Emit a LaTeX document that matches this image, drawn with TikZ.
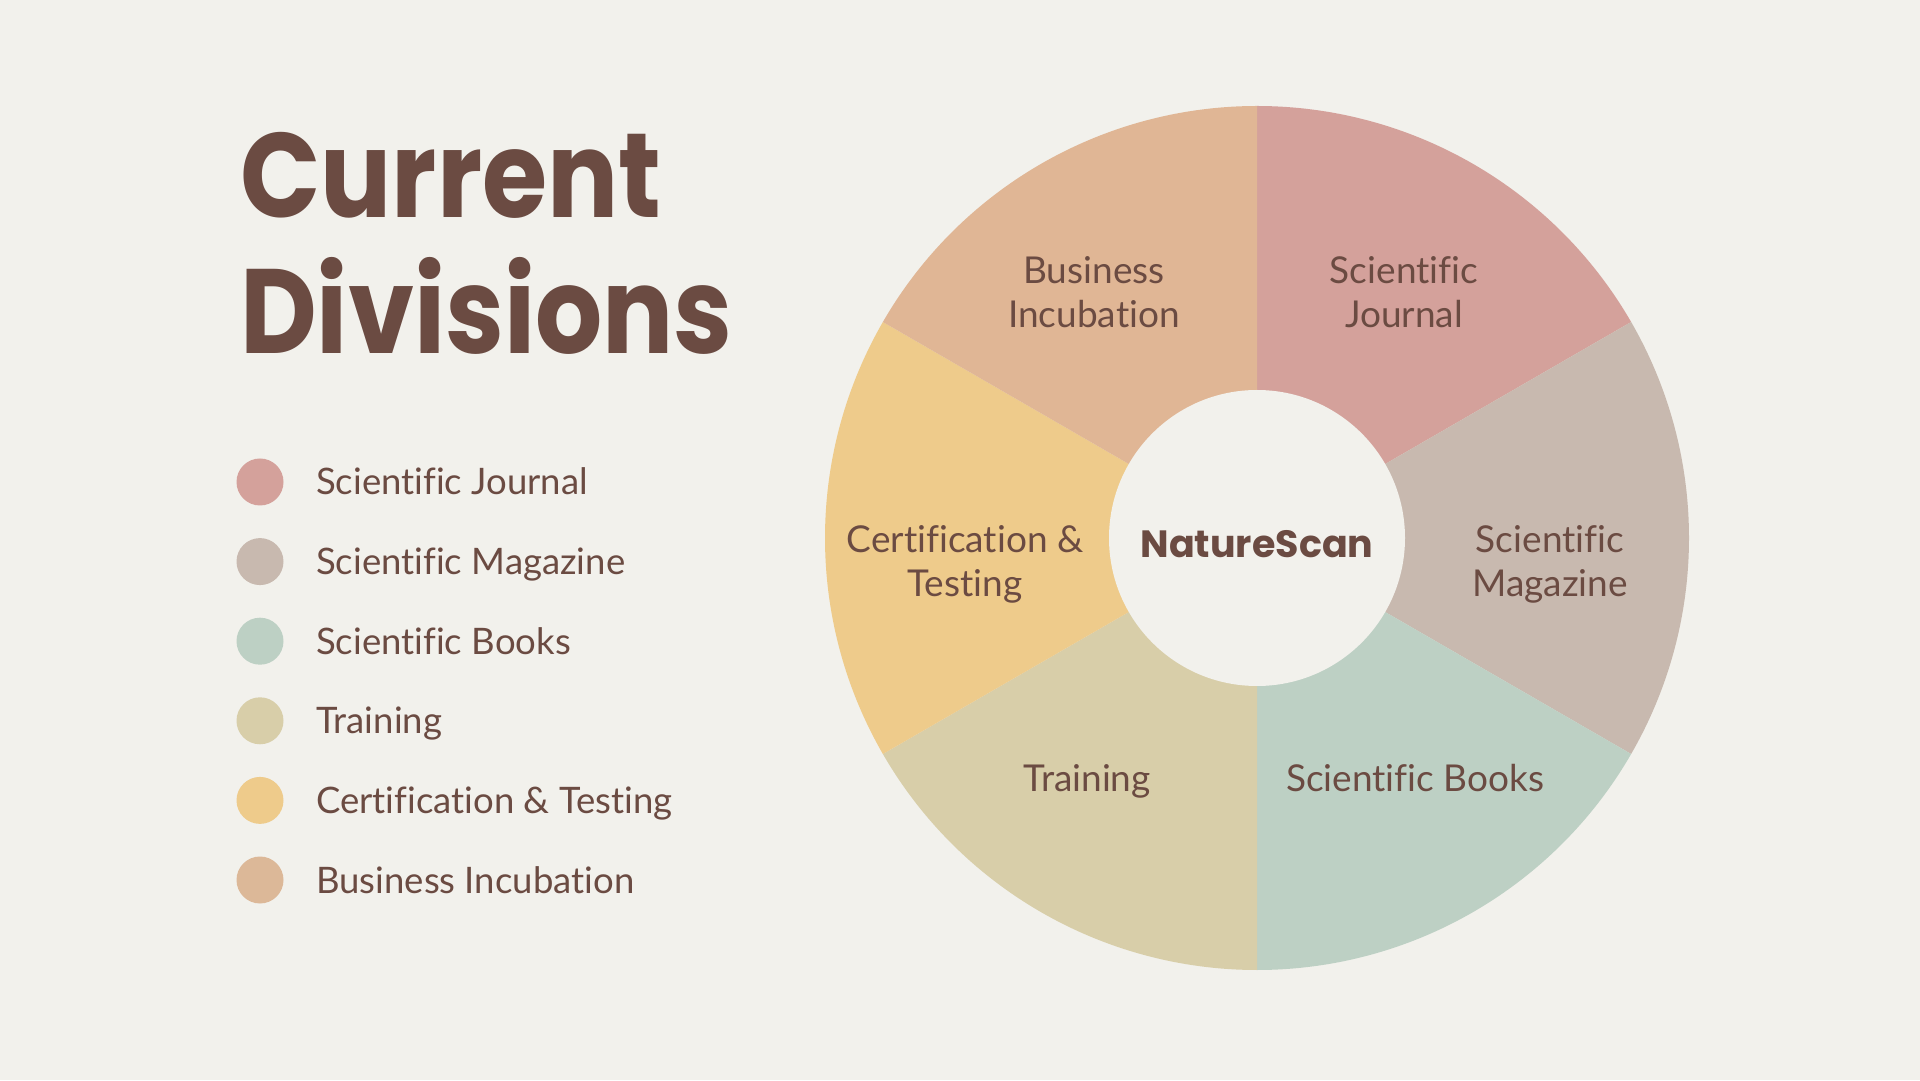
\documentclass[tikz,border=0pt]{standalone}
\usepackage{fontspec}
\setmainfont{Lato}[Ligatures={NoCommon}]
\newfontfamily\titlefont{Poppins}
\newfontfamily\headfont[FakeStretch=0.88]{Poppins}
\usetikzlibrary{calc}
\definecolor{bgc}{HTML}{F2F1EC}
\definecolor{txt}{HTML}{6B4B42}
\definecolor{cjournal}{HTML}{D4A19B}
\definecolor{cmagazine}{HTML}{C8B9AF}
\definecolor{cbooks}{HTML}{BDD0C4}
\definecolor{ctraining}{HTML}{D8CEA9}
\definecolor{ccert}{HTML}{EECB8B}
\definecolor{cbusiness}{HTML}{E0B695}
\definecolor{cbusinessdot}{HTML}{DCB898}
\tikzset{
  titletext/.style={anchor=base west, inner sep=0pt, text=txt, font=\headfont\bfseries\fontsize{120}{120}\selectfont},
  dot/.style={circle, inner sep=0pt, minimum size=47, fill=#1},
  legtext/.style={anchor=base west, inner sep=0pt, text=txt, font=\fontsize{36.5}{44}\selectfont},
  wheeltext/.style={anchor=base, inner sep=0pt, text=txt, font=\fontsize{37}{44}\selectfont},
  hubtext/.style={inner sep=0pt, text=txt, font=\titlefont\bfseries\fontsize{38}{38}\selectfont}
}
\begin{document}
\begin{tikzpicture}[x=1pt,y=1pt]
\useasboundingbox (0,0) rectangle (1920,1080);
\fill[bgc] (0,0) rectangle (1920,1080);
% title
\node[titletext] (t1) at (240,1080-218) {Current};
\node[titletext] (t2) at (240,1080-354) {Divisions};
% legend
\foreach \i/\c/\t in {0/cjournal/Scientific Journal,1/cmagazine/Scientific Magazine,2/cbooks/Scientific Books,3/ctraining/Training,4/ccert/Certification \& Testing,5/cbusinessdot/Business Incubation}{
  \node[dot=\c] (d\i) at (260,1080-482-79.6*\i) {};
  \node[legtext] (l\i) at (316,1080-495-79.6*\i) {\t};
}
% wheel
\coordinate (C) at (1257,542);
\foreach \a/\c in {90/cjournal,30/cmagazine,-30/cbooks,-90/ctraining,-150/ccert,150/cbusiness}{
  \fill[\c] (C) -- ($(C)+(\a:432)$) arc[start angle=\a, end angle=\a-60, radius=432] -- cycle;
}
\node[circle, fill=bgc, minimum size=296, inner sep=0pt] (hub) at (C) {};
\node[hubtext] (hubl) at (1257,1080-544) {NatureScan};
% wheel labels
\node[wheeltext] (w1a) at (1404,1080-284) {Scientific};
\node[wheeltext] (w1b) at (1404,1080-328) {Journal};
\node[wheeltext] (w2a) at (1550,1080-553) {Scientific};
\node[wheeltext] (w2b) at (1550,1080-597) {Magazine};
\node[wheeltext] (w3) at (1415,1080-792) {Scientific Books};
\node[wheeltext] (w4) at (1087,1080-792) {Training};
\node[wheeltext] (w5a) at (965,1080-553) {Certification \&};
\node[wheeltext] (w5b) at (965,1080-597) {Testing};
\node[wheeltext] (w6a) at (1094,1080-284) {Business};
\node[wheeltext] (w6b) at (1094,1080-328) {Incubation};
\end{tikzpicture}
\end{document}
